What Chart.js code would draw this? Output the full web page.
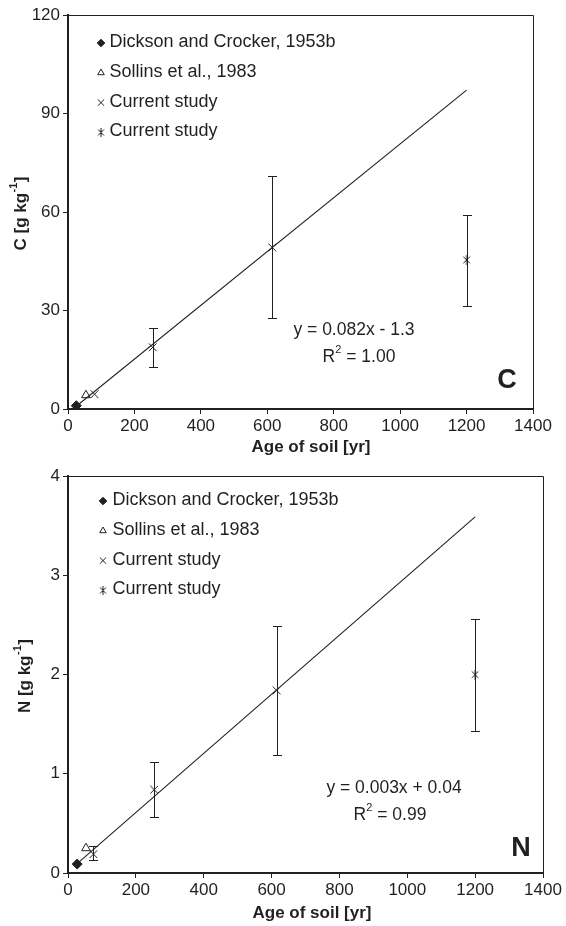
<!DOCTYPE html>
<html><head><meta charset="utf-8">
<script src="https://cdn.jsdelivr.net/npm/chart.js@4/dist/chart.umd.min.js"></script>
<style>
html,body{margin:0;padding:0;background:#fff;}
#wrap{position:relative;width:566px;height:926px;overflow:hidden;}
canvas{display:block;position:absolute;left:0;}
</style></head><body>
<div id="wrap">
<canvas id="cC" width="566" height="463" style="top:0"></canvas>
<canvas id="cN" width="566" height="463" style="top:463px"></canvas>
</div>
<script>
// ---------- shared ----------
const ageTicks = [0, 200, 400, 600, 800, 1000, 1200, 1400];
const seriesLabels = ['Dickson and Crocker, 1953b', 'Sollins et al., 1983', 'Current study', 'Current study'];

// ---------- Panel C (carbon, g/kg) ----------
const cTicks = [0, 30, 60, 90, 120];
const cDicksonAge = [25];
const cDicksonVal = [1.0];
const cSollinsAge = [54];
const cSollinsVal = [4.2];
const cStudyAge = [80, 255, 615];
const cStudyVal = [4.5, 18.8, 49.2];
const cStudyLow = [null, 12.8, 27.6];
const cStudyHigh = [null, 24.6, 71.1];
const cStudy2Age = [1200];
const cStudy2Val = [45.4];
const cStudy2Low = [31.4];
const cStudy2High = [59.2];
const cFitAge = [22, 1200];
const cFitVal = [0.6, 97.1];

// ---------- Panel N (nitrogen, g/kg) ----------
const nTicks = [0, 1, 2, 3, 4];
const nDicksonAge = [27];
const nDicksonVal = [0.09];
const nSollinsAge = [53];
const nSollinsVal = [0.25];
const nStudyAge = [75, 254, 615];
const nStudyVal = [0.19, 0.84, 1.84];
const nStudyLow = [0.13, 0.56, 1.19];
const nStudyHigh = [0.27, 1.12, 2.49];
const nStudy2Age = [1200];
const nStudy2Val = [2.0];
const nStudy2Low = [1.43];
const nStudy2High = [2.56];
const nFitAge = [22, 1200];
const nFitVal = [0.08, 3.59];

const fontFam = '"Liberation Sans", Arial, Helvetica, sans-serif';
const ink = '#231f20';

function zip(xs, ys) { return xs.map((x, i) => ({x: x, y: ys[i]})); }

function makeAsterisk(size) {
  const c = document.createElement('canvas');
  c.width = size; c.height = size;
  const g = c.getContext('2d');
  g.strokeStyle = ink; g.lineWidth = 1;
  const m = size / 2, a = size / 2 - 0.5;
  g.beginPath();
  g.moveTo(m - a * 0.75, m - a * 0.75); g.lineTo(m + a * 0.75, m + a * 0.75);
  g.moveTo(m + a * 0.75, m - a * 0.75); g.lineTo(m - a * 0.75, m + a * 0.75);
  g.moveTo(m, 0); g.lineTo(m, size);
  g.stroke();
  return c;
}
const asteriskBig = makeAsterisk(10);
const asteriskSmall = makeAsterisk(9);

const overlay = {
  id: 'overlay',
  beforeDatasetsDraw(chart) {
    const {ctx, scales: {x, y}} = chart;
    ctx.save();
    ctx.strokeStyle = ink; ctx.lineWidth = 1;
    chart.data.datasets.forEach(ds => {
      if (!ds.errLow) return;
      ds.data.forEach((p, i) => {
        const lo = ds.errLow[i], hi = ds.errHigh[i];
        if (lo == null || hi == null) return;
        const px = Math.round(x.getPixelForValue(p.x)) + 0.5;
        const yl = Math.round(y.getPixelForValue(lo)) + 0.5;
        const yh = Math.round(y.getPixelForValue(hi)) + 0.5;
        ctx.beginPath();
        ctx.moveTo(px, yl); ctx.lineTo(px, yh);
        ctx.moveTo(px - 4.5, yl); ctx.lineTo(px + 4.5, yl);
        ctx.moveTo(px - 4.5, yh); ctx.lineTo(px + 4.5, yh);
        ctx.stroke();
      });
    });
    ctx.restore();
  },
  afterDraw(chart, args, o) {
    const {ctx, chartArea: a} = chart;
    ctx.save();
    // top & right frame
    ctx.strokeStyle = ink; ctx.lineWidth = 1;
    ctx.beginPath();
    ctx.moveTo(a.left, Math.round(a.top) + 0.5); ctx.lineTo(Math.round(a.right) + 0.5, Math.round(a.top) + 0.5);
    ctx.lineTo(Math.round(a.right) + 0.5, a.bottom);
    ctx.stroke();

    // legend inside plot
    let row = 0;
    chart.data.datasets.forEach(ds => {
      if (!ds.label) return;
      const ly = o.legendTop + row * o.legendGap;
      ctx.fillStyle = ds.legendFill; ctx.strokeStyle = ink; ctx.lineWidth = 1;
      Chart.helpers.drawPoint(ctx, {pointStyle: ds.legendStyle, radius: ds.legendRadius, borderWidth: 1, rotation: 0}, o.legendMarkX, ly + 2);
      ctx.fillStyle = ink;
      ctx.font = '18px ' + fontFam;
      ctx.textAlign = 'left'; ctx.textBaseline = 'middle';
      ctx.fillText(ds.label, o.legendTextX, ly + 1);
      row++;
    });

    // regression equation
    ctx.fillStyle = ink;
    ctx.font = '17.5px ' + fontFam;
    ctx.textAlign = 'center'; ctx.textBaseline = 'middle';
    ctx.fillText(o.eq, o.eqX, o.eqY);
    // R^2 line
    ctx.textAlign = 'left';
    ctx.font = '17.5px ' + fontFam;
    const wR = ctx.measureText('R').width;
    const wRest = ctx.measureText(o.r2).width;
    ctx.font = '11px ' + fontFam;
    const wSup = ctx.measureText('2').width;
    let sx = o.r2X - (wR + wSup + wRest) / 2;
    ctx.font = '17.5px ' + fontFam;
    ctx.fillText('R', sx, o.r2Y);
    ctx.font = '11px ' + fontFam;
    ctx.fillText('2', sx + wR, o.r2Y - 7);
    ctx.font = '17.5px ' + fontFam;
    ctx.fillText(o.r2, sx + wR + wSup, o.r2Y);

    // panel letter
    ctx.font = 'bold 27px ' + fontFam;
    ctx.textAlign = 'center';
    ctx.fillText(o.letter, o.letterX, o.letterY);

    // x title
    ctx.font = 'bold 17px ' + fontFam;
    ctx.fillText(o.xTitle, o.xTitleX, o.xTitleY);

    // y title (rotated, with superscript)
    ctx.translate(o.yTitleX, (a.top + a.bottom) / 2 + 2);
    ctx.rotate(-Math.PI / 2);
    ctx.textAlign = 'left';
    ctx.font = 'bold 17px ' + fontFam;
    const w1 = ctx.measureText(o.yTitle[0]).width;
    const w3 = ctx.measureText(o.yTitle[2]).width;
    ctx.font = 'bold 11px ' + fontFam;
    const w2 = ctx.measureText(o.yTitle[1]).width;
    let tx = -(w1 + w2 + w3) / 2;
    ctx.font = 'bold 17px ' + fontFam;
    ctx.fillText(o.yTitle[0], tx, 0);
    ctx.font = 'bold 11px ' + fontFam;
    ctx.fillText(o.yTitle[1], tx + w1 + 0.5, -7);
    ctx.font = 'bold 17px ' + fontFam;
    ctx.fillText(o.yTitle[2], tx + w1 + w2 + 1, 0);
    ctx.restore();
  }
};

function buildPanel(id, d, L) {
  const datasets = [
    {label: seriesLabels[0], data: zip(d.dAge, d.dVal), pointStyle: 'rectRot', pointRadius: 5,
     backgroundColor: ink, borderColor: ink, borderWidth: 1,
     legendStyle: 'rectRot', legendRadius: 3.8, legendFill: ink},
    {label: seriesLabels[1], data: zip(d.sAge, d.sVal), pointStyle: 'triangle', pointRadius: 5,
     backgroundColor: 'rgba(255,255,255,0)', borderColor: ink, borderWidth: 1,
     legendStyle: 'triangle', legendRadius: 3.8, legendFill: 'rgba(255,255,255,0)'},
    {label: seriesLabels[2], data: zip(d.cAge, d.cVal), pointStyle: 'crossRot', pointRadius: 5.5,
     backgroundColor: ink, borderColor: ink, borderWidth: 1,
     errLow: d.cLow, errHigh: d.cHigh,
     legendStyle: 'crossRot', legendRadius: 4.4, legendFill: ink},
    {label: seriesLabels[3], data: zip(d.c2Age, d.c2Val), pointStyle: asteriskBig, pointRadius: 5,
     backgroundColor: ink, borderColor: ink, borderWidth: 1,
     errLow: d.c2Low, errHigh: d.c2High,
     legendStyle: asteriskSmall, legendRadius: 4.5, legendFill: ink},
    {label: '', data: zip(d.fAge, d.fVal), showLine: true, pointRadius: 0, borderColor: ink,
     borderWidth: 1.1, fill: false, order: 10}
  ];
  return new Chart(document.getElementById(id), {
    type: 'scatter',
    data: {datasets: datasets},
    options: {
      responsive: false, animation: false, devicePixelRatio: 1,
      layout: {padding: L.padding},
      plugins: {legend: {display: false}, tooltip: {enabled: false}, overlay: L},
      scales: {
        x: {
          type: 'linear', min: 0, max: 1400,
          afterBuildTicks: s => { s.ticks = ageTicks.map(v => ({value: v})); },
          afterFit: s => { s.height = L.xAxisH; },
          ticks: {color: ink, font: {family: fontFam, size: 17}, padding: 2, maxRotation: 0, autoSkip: false,
                  callback: v => String(v)},
          grid: {display: true, drawOnChartArea: false, drawTicks: true, tickLength: 5, color: ink, lineWidth: 1},
          border: {display: true, color: ink, width: 2}
        },
        y: {
          type: 'linear', min: d.yTicks[0], max: d.yTicks[d.yTicks.length - 1],
          afterBuildTicks: s => { s.ticks = d.yTicks.map(v => ({value: v})); },
          afterFit: s => { s.width = L.yAxisW; },
          ticks: {color: ink, font: {family: fontFam, size: 17}, padding: 3, autoSkip: false,
                  callback: v => String(v)},
          grid: {display: true, drawOnChartArea: false, drawTicks: true, tickLength: 5, color: ink, lineWidth: 1},
          border: {display: true, color: ink, width: 2}
        }
      }
    },
    plugins: [overlay]
  });
}

buildPanel('cC', {
  yTicks: cTicks,
  dAge: cDicksonAge, dVal: cDicksonVal,
  sAge: cSollinsAge, sVal: cSollinsVal,
  cAge: cStudyAge, cVal: cStudyVal, cLow: cStudyLow, cHigh: cStudyHigh,
  c2Age: cStudy2Age, c2Val: cStudy2Val, c2Low: cStudy2Low, c2High: cStudy2High,
  fAge: cFitAge, fVal: cFitVal
}, {
  padding: {top: 15, right: 33, left: 0, bottom: 0}, xAxisH: 54, yAxisW: 68,
  legendTop: 41, legendGap: 29.8, legendMarkX: 101, legendTextX: 109.5,
  eq: 'y = 0.082x - 1.3', eqX: 354, eqY: 330,
  r2: ' = 1.00', r2X: 359, r2Y: 357,
  letter: 'C', letterX: 507, letterY: 381,
  xTitle: 'Age of soil [yr]', xTitleX: 311, xTitleY: 447,
  yTitle: ['C [g kg', '-1', ']'], yTitleX: 21
});

buildPanel('cN', {
  yTicks: nTicks,
  dAge: nDicksonAge, dVal: nDicksonVal,
  sAge: nSollinsAge, sVal: nSollinsVal,
  cAge: nStudyAge, cVal: nStudyVal, cLow: nStudyLow, cHigh: nStudyHigh,
  c2Age: nStudy2Age, c2Val: nStudy2Val, c2Low: nStudy2Low, c2High: nStudy2High,
  fAge: nFitAge, fVal: nFitVal
}, {
  padding: {top: 11, right: 23, left: 0, bottom: 0}, xAxisH: 53, yAxisW: 68,
  legendTop: 36, legendGap: 29.8, legendMarkX: 103, legendTextX: 112.5,
  eq: 'y = 0.003x + 0.04', eqX: 394, eqY: 325,
  r2: ' = 0.99', r2X: 390, r2Y: 352,
  letter: 'N', letterX: 521, letterY: 386,
  xTitle: 'Age of soil [yr]', xTitleX: 312, xTitleY: 450,
  yTitle: ['N [g kg', '-1', ']'], yTitleX: 25
});
</script>
</body></html>
